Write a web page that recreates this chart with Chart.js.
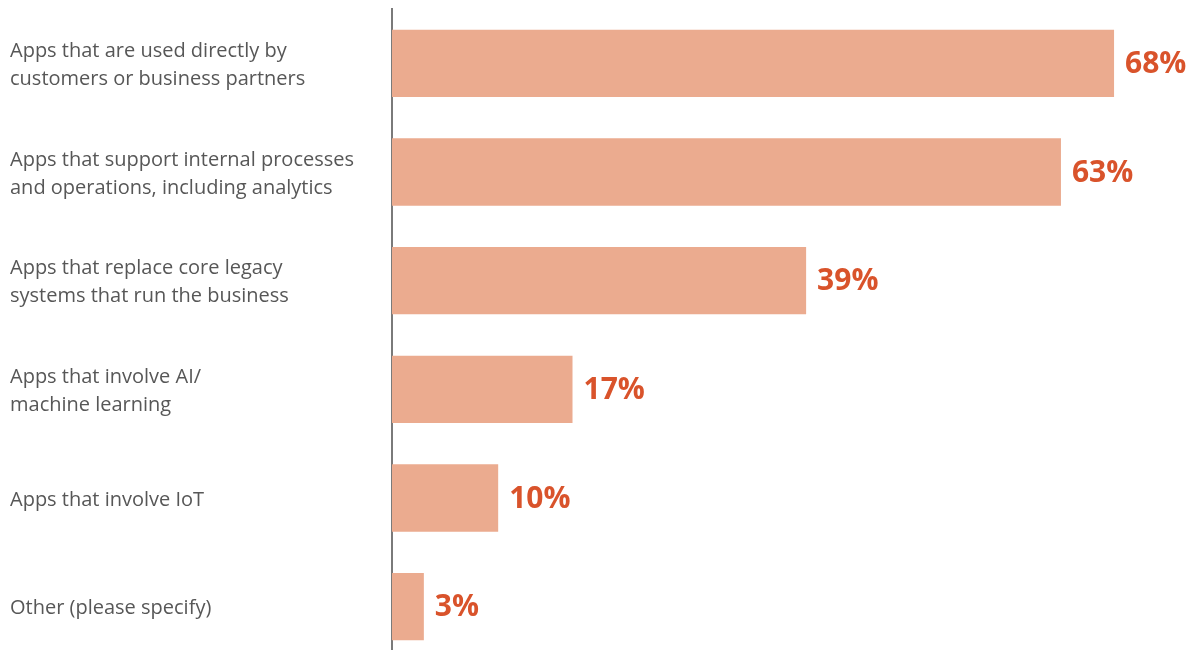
<!DOCTYPE html>
<html>
<head>
<meta charset="utf-8">
<script src="https://cdn.jsdelivr.net/npm/chart.js@4"></script>
<style>
  html, body { margin: 0; padding: 0; background: #fff; overflow: hidden; }
  #wrap { width: 1199px; height: 662px; }
</style>
</head>
<body>
<div id="wrap"><canvas id="bars" width="1199" height="662"></canvas></div>
<script>
var categories = [
  ['Apps that are used directly by', 'customers or business partners'],
  ['Apps that support internal processes', 'and operations, including analytics'],
  ['Apps that replace core legacy', 'systems that run the business'],
  ['Apps that involve AI/', 'machine learning'],
  ['Apps that involve IoT'],
  ['Other (please specify)']
];
var values = [68, 63, 39, 17, 10, 3];
var valueLabels = ['68%', '63%', '39%', '17%', '10%', '3%'];

// draws the bold percent next to each bar
var valuePlugin = {
  id: 'valuePlugin',
  afterDatasetsDraw: function(chart) {
    var ctx = chart.ctx;
    var meta = chart.getDatasetMeta(0);
    ctx.save();
    ctx.font = 'bold 30px "Open Sans"';
    ctx.fillStyle = '#d9532b';
    ctx.textAlign = 'left';
    ctx.textBaseline = 'middle';
    for (var i = 0; i < meta.data.length; i++) {
      var bar = meta.data[i];
      ctx.fillText(valueLabels[i], bar.x + 11, bar.y + 1);
    }
    ctx.restore();
  }
};

var ctx = document.getElementById('bars').getContext('2d');
var chart = new Chart(ctx, {
  type: 'bar',
  data: {
    labels: categories,
    datasets: [{
      data: values,
      backgroundColor: '#ebab8f',
      borderWidth: 0,
      barPercentage: 0.62,
      categoryPercentage: 1
    }]
  },
  options: {
    indexAxis: 'y',
    responsive: false,
    animation: false,
    layout: { padding: { left: 10, top: 9, bottom: 1, right: 0 } },
    plugins: {
      legend: { display: false },
      title: { display: false },
      tooltip: { enabled: false }
    },
    scales: {
      x: {
        display: false,
        min: 0,
        max: 76
      },
      y: {
        grid: { display: false },
        border: { display: true, color: '#7a7a7a', width: 2 },
        ticks: {
          crossAlign: 'far',
          labelOffset: 2,
          color: '#575757',
          font: { family: '"Open Sans"', size: 20, lineHeight: 1.4 }
        },
        afterFit: function(scale) {
          scale.width = 382;
          scale.paddingTop = 0;
          scale.paddingBottom = 0;
        }
      }
    }
  },
  plugins: [valuePlugin]
});
</script>
</body>
</html>
